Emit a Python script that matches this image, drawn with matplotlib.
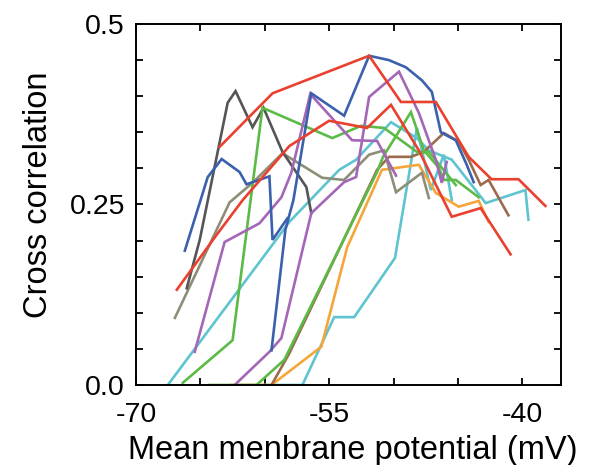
import matplotlib
matplotlib.use("Agg")
import matplotlib.pyplot as plt
from matplotlib.ticker import FixedLocator, FuncFormatter

plt.rcParams['font.family'] = ['Liberation Sans', 'DejaVu Sans']

# Mean membrane potential (mV) and cross correlation for each recorded cell
cyan_a_v = [-67.53, -59.25, -58.09, -54.22, -52.91, -50.20, -48.19, -47.26, -45.48, -43.63, -42.85, -39.76, -39.53]
cyan_a_c = [0.000, 0.198, 0.226, 0.298, 0.312, 0.364, 0.342, 0.325, 0.312, 0.270, 0.252, 0.270, 0.229]

cyan_b_v = [-60.18, -57.08, -54.61, -53.06, -49.89, -48.81, -48.19, -47.11, -46.10, -45.48]
cyan_b_c = [0.000, 0.000, 0.094, 0.094, 0.176, 0.291, 0.356, 0.270, 0.319, 0.256]

orange_v = [-62.58, -59.48, -55.61, -53.60, -50.90, -48.04, -46.72, -44.94, -43.39, -42.62]
orange_c = [0.000, 0.000, 0.053, 0.191, 0.298, 0.305, 0.266, 0.247, 0.255, 0.226]

brown_v = [-59.48, -58.09, -51.28, -50.36, -48.65, -47.65, -46.10, -44.94, -44.17, -43.24, -42.62, -41.08]
brown_c = [0.000, 0.044, 0.298, 0.316, 0.316, 0.323, 0.349, 0.337, 0.312, 0.277, 0.284, 0.235]

olive_v = [-66.98, -62.73, -60.95, -58.63, -55.54, -53.84, -51.90, -50.74, -49.81, -47.80, -47.26]
olive_c = [0.093, 0.253, 0.280, 0.321, 0.287, 0.284, 0.319, 0.325, 0.267, 0.294, 0.259]

gray_v = [-66.06, -65.05, -62.88, -62.27, -60.95, -60.10, -58.63, -56.77, -56.39]
gray_c = [0.134, 0.201, 0.391, 0.407, 0.357, 0.384, 0.323, 0.274, 0.238]

green_a_v = [-66.37, -62.50, -60.18, -54.76, -52.52, -50.74, -48.04, -47.26, -45.17]
green_a_c = [0.003, 0.062, 0.384, 0.342, 0.359, 0.356, 0.321, 0.323, 0.277]

green_b_v = [-64.28, -60.64, -58.48, -51.28, -50.82, -48.65, -47.65, -46.49, -46.10, -45.17, -43.39]
green_b_c = [0.000, 0.000, 0.035, 0.295, 0.316, 0.378, 0.325, 0.301, 0.284, 0.284, 0.260]

purple_a_v = [-65.44, -63.12, -60.41, -58.71, -57.94, -56.47, -53.22, -51.28, -49.81]
purple_a_c = [0.046, 0.198, 0.224, 0.260, 0.294, 0.403, 0.339, 0.338, 0.290]

purple_b_v = [-62.34, -59.64, -58.71, -56.39, -53.84, -52.91, -51.90, -49.58, -48.04, -46.72, -46.26, -45.87]
purple_b_c = [0.000, 0.046, 0.065, 0.238, 0.281, 0.288, 0.399, 0.434, 0.377, 0.312, 0.280, 0.309]

blue_a_v = [-66.21, -64.43, -63.35, -61.96, -61.42, -59.64, -59.40, -58.24]
blue_a_c = [0.186, 0.288, 0.313, 0.295, 0.278, 0.289, 0.201, 0.231]

blue_b_v = [-59.48, -58.40, -57.78, -56.39, -53.84, -51.90, -50.36, -49.04, -47.80, -47.03, -46.33, -45.17, -44.32, -43.78]
blue_b_c = [0.048, 0.215, 0.256, 0.404, 0.373, 0.456, 0.450, 0.440, 0.422, 0.406, 0.350, 0.339, 0.305, 0.281]

red_b_v = [-66.83, -63.74, -61.72, -58.09, -55.00, -52.06, -50.20, -48.04, -45.48, -43.24, -40.92]
red_b_c = [0.132, 0.208, 0.256, 0.331, 0.366, 0.356, 0.388, 0.325, 0.233, 0.245, 0.181]

red_a_v = [-63.50, -59.40, -51.90, -49.43, -46.72, -44.17, -42.39, -40.30, -38.21]
red_a_c = [0.330, 0.404, 0.456, 0.392, 0.392, 0.316, 0.285, 0.285, 0.248]

x_ticks = [-70, -65, -60, -55, -50, -45, -40]
x_labels = [-70, -55, -40]
y_ticks = [0.0, 0.05, 0.10, 0.15, 0.20, 0.25, 0.30, 0.35, 0.40, 0.45, 0.50]
y_labels = [0.0, 0.25, 0.5]

CYAN = '#5ec4d0'
ORANGE = '#f6a53a'
BROWN = '#9c6b4b'
OLIVE = '#8e8e78'
GRAY = '#555555'
GREEN = '#5cba47'
PURPLE = '#a466b6'
BLUE = '#3a60ae'
RED = '#e9402f'

traces = [
    (cyan_a_v, cyan_a_c, CYAN),
    (cyan_b_v, cyan_b_c, CYAN),
    (orange_v, orange_c, ORANGE),
    (brown_v, brown_c, BROWN),
    (olive_v, olive_c, OLIVE),
    (gray_v, gray_c, GRAY),
    (green_a_v, green_a_c, GREEN),
    (green_b_v, green_b_c, GREEN),
    (purple_a_v, purple_a_c, PURPLE),
    (purple_b_v, purple_b_c, PURPLE),
    (blue_a_v, blue_a_c, BLUE),
    (blue_b_v, blue_b_c, BLUE),
    (red_b_v, red_b_c, RED),
    (red_a_v, red_a_c, RED),
]

fig = plt.figure(figsize=(5.92, 4.65), dpi=100)
ax = fig.add_axes([136 / 592, 80 / 465, 425 / 592, 361 / 465])

for xv, yv, col in traces:
    ax.plot(xv, yv, color=col, lw=1.9, solid_joinstyle='miter')

ax.set_xlim(-70, -37)
ax.set_ylim(0, 0.5)

ax.xaxis.set_major_locator(FixedLocator(x_ticks))
ax.yaxis.set_major_locator(FixedLocator(y_ticks))
ax.xaxis.set_major_formatter(FuncFormatter(
    lambda v, p: f"{v:.0f}" if any(abs(v - t) < 1e-6 for t in x_labels) else ""))


def fmt_y(v, p):
    for t, s in zip(y_labels, ["0.0", "0.25", "0.5"]):
        if abs(v - t) < 1e-6:
            return s
    return ""


ax.yaxis.set_major_formatter(FuncFormatter(fmt_y))

ax.tick_params(which='both', direction='in', top=True, right=True,
               length=5, width=1.3, color='black', labelsize=20.5)
ax.tick_params(axis='x', pad=12)
ax.tick_params(axis='y', pad=8)

for s in ax.spines.values():
    s.set_linewidth(1.4)
    s.set_color('black')

ax.set_xlabel("Mean menbrane potential (mV)", fontsize=23.5)
ax.set_ylabel("Cross correlation", fontsize=23.5)
ax.xaxis.set_label_coords(0.509, -0.1385)
ax.yaxis.set_label_coords(-0.193, 0.526)

fig.savefig("out.png", dpi=100)
